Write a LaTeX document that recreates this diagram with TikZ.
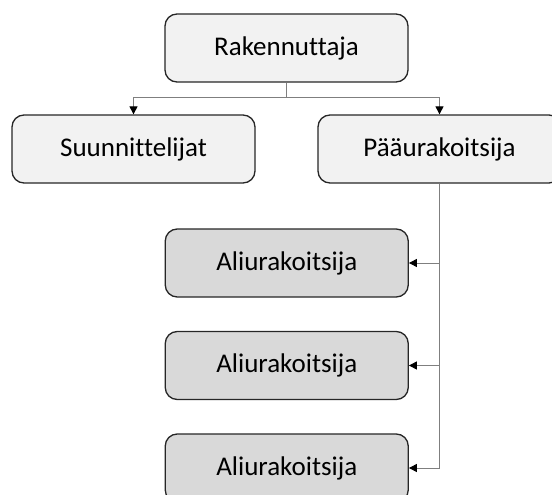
\documentclass[tikz,border=0pt]{standalone}
\usepackage{fontspec}
\setmainfont{Carlito}[Ligatures={NoCommon}]
\usetikzlibrary{arrows.meta}
\definecolor{linegray}{HTML}{7F7F7F}
\definecolor{boxborder}{HTML}{262626}
\definecolor{lightfill}{HTML}{F2F2F2}
\definecolor{darkfill}{HTML}{D9D9D9}
\begin{document}
\begin{tikzpicture}[x=1pt,y=-1pt,
  box/.style={draw=boxborder, line width=1.3pt, rounded corners=12pt,
    minimum width=243pt, minimum height=68pt, inner sep=0pt,
    font=\fontsize{27}{32}\selectfont, text=black},
  topbox/.style={box, fill=lightfill},
  subbox/.style={box, fill=darkfill},
  conn/.style={draw=linegray, line width=1pt},
  tip/.style={-{Triangle[length=8pt,width=8pt,color=black]}}
]
\useasboundingbox (0,0) rectangle (552,495);
\begin{scope}
\clip (0,0) rectangle (552,495);
\node[topbox] (R) at (286.5,48) {Rakennuttaja};
\node[topbox] (S) at (133.5,149) {Suunnittelijat};
\node[topbox] (P) at (439.5,149) {Pääurakoitsija};
\node[subbox] (A1) at (286.75,263) {Aliurakoitsija};
\node[subbox] (A2) at (286.75,365.5) {Aliurakoitsija};
\node[subbox] (A3) at (286.75,468) {Aliurakoitsija};
\coordinate (j) at (286.5,98);
\draw[conn] (R.south) -- (j);
\draw[conn,tip] (j) -| (S.north);
\draw[conn,tip] (j) -| (P.north);
\draw[conn,tip] (P.south) |- (A1.east);
\draw[conn,tip] (P.south) |- (A2.east);
\draw[conn,tip] (P.south) |- (A3.east);
\end{scope}
\end{tikzpicture}
\end{document}
